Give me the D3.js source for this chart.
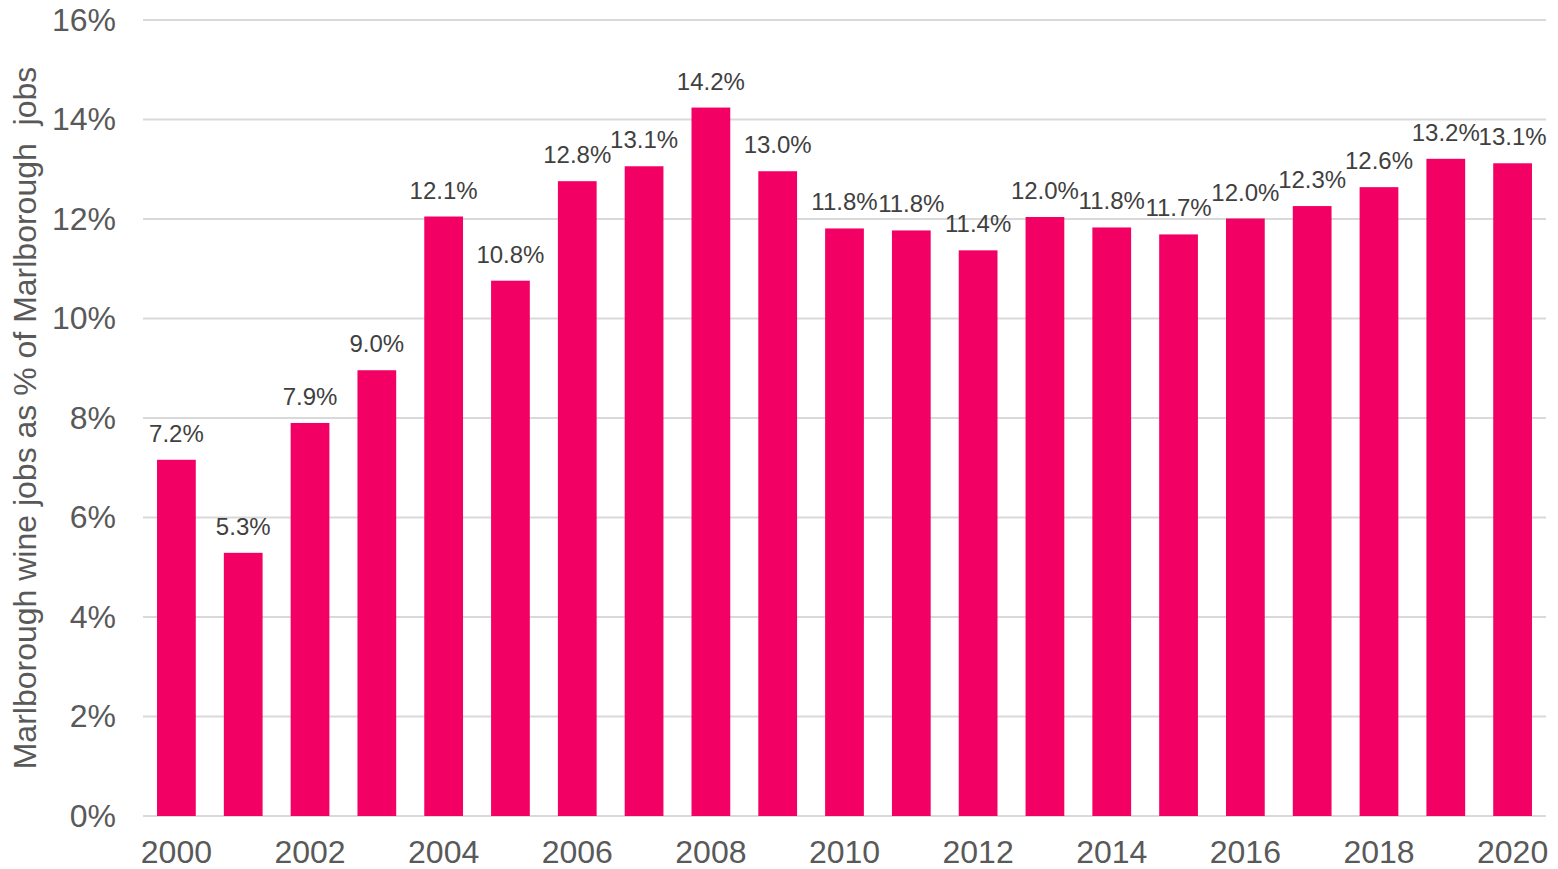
<!DOCTYPE html>
<html lang="en">
<head>
    <meta charset="UTF-8">
    <script src="https://cdn.jsdelivr.net/npm/d3@7/dist/d3.min.js"></script>
    <title>Marlborough wine jobs</title>
    <style>
        body { margin: 0; background: #fff; }
        text { font-family: "Liberation Sans", Arial, sans-serif; }
    </style>
</head>
<body>
<script>
    // data
    let years = d3.range(2000, 2021);
    let shares = [7.16, 5.29, 7.90, 8.96, 12.05, 10.76, 12.76, 13.06, 14.24, 12.96,
                  11.81, 11.77, 11.37, 12.04, 11.83, 11.69, 12.01, 12.26, 12.64, 13.21, 13.12];
    let yTicks = [0, 2, 4, 6, 8, 10, 12, 14, 16];
    let xTickYears = [2000, 2002, 2004, 2006, 2008, 2010, 2012, 2014, 2016, 2018, 2020];

    let width = 1558, height = 869;
    let margin = {left: 143, right: 12, top: 20, bottom: 53};

    let svg = d3.select("body").append("svg")
        .attr("width", width)
        .attr("height", height);

    let x = d3.scaleBand()
        .domain(years)
        .range([margin.left, width - margin.right])
        .paddingInner(0.42)
        .paddingOuter(0.21);

    let y = d3.scaleLinear()
        .domain([0, 16])
        .range([height - margin.bottom, margin.top]);

    // gridlines
    svg.append("g")
        .selectAll("line")
        .data(yTicks)
        .enter()
        .append("line")
        .attr("x1", margin.left)
        .attr("x2", width - margin.right)
        .attr("y1", d => y(d))
        .attr("y2", d => y(d))
        .attr("stroke", "#d9d9d9")
        .attr("stroke-width", 2);

    // y axis labels
    let yAxis = d3.axisLeft(y).tickValues(yTicks).tickSize(0).tickPadding(27).tickFormat(d => d + "%");
    let yg = svg.append("g")
        .attr("transform", "translate(" + margin.left + ",0)")
        .call(yAxis);
    yg.select(".domain").remove();
    yg.selectAll("text").attr("font-size", 32).attr("fill", "#595959")
        .attr("font-family", "Liberation Sans, Arial, sans-serif");

    // bars
    svg.selectAll("rect.bar")
        .data(shares)
        .enter()
        .append("rect")
        .attr("class", "bar")
        .attr("x", (d, i) => x(years[i]))
        .attr("y", d => y(d))
        .attr("width", x.bandwidth())
        .attr("height", d => y(0) - y(d))
        .attr("fill", "#f20064");

    // value labels
    svg.selectAll("text.val")
        .data(shares)
        .enter()
        .append("text")
        .attr("class", "val")
        .attr("x", (d, i) => x(years[i]) + x.bandwidth() / 2)
        .attr("y", d => y(d) - 18)
        .attr("text-anchor", "middle")
        .attr("font-size", 24)
        .attr("fill", "#404040")
        .text(d => d.toFixed(1) + "%");

    // x axis
    let xAxis = d3.axisBottom(x).tickValues(xTickYears).tickSize(0).tickPadding(24);
    let xg = svg.append("g")
        .attr("transform", "translate(0," + y(0) + ")")
        .call(xAxis);
    xg.select(".domain").remove();
    xg.selectAll("text").attr("font-size", 32).attr("fill", "#595959")
        .attr("font-family", "Liberation Sans, Arial, sans-serif");

    // y axis title (double space kept as in the original)
    svg.append("text")
        .attr("transform", "translate(36," + ((y(0) + y(16)) / 2) + ") rotate(-90)")
        .attr("text-anchor", "middle")
        .attr("font-size", 32)
        .attr("fill", "#595959")
        .style("white-space", "pre")
        .text("Marlborough wine jobs as % of Marlborough  jobs");
</script>
</body>
</html>
